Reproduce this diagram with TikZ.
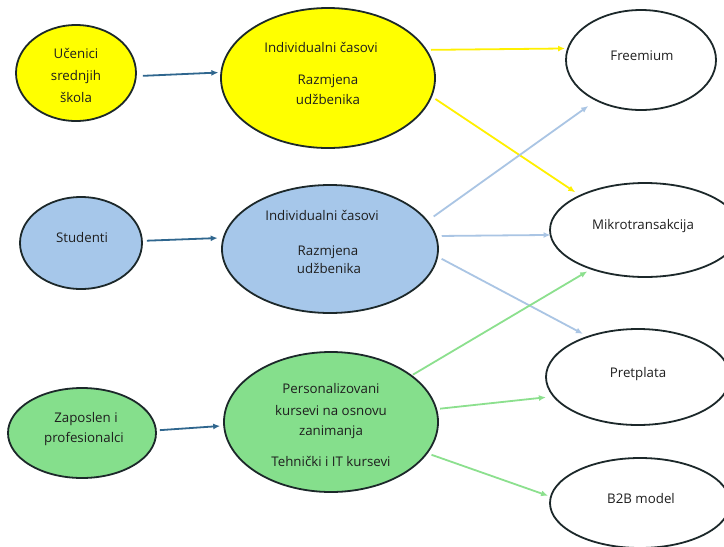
\documentclass[tikz,border=0pt]{standalone}
\usepackage{fontspec}
\setmainfont{Open Sans}
\usetikzlibrary{shapes.geometric,arrows.meta}

\definecolor{yelfill}{RGB}{255,255,0}
\definecolor{bluefill}{RGB}{166,199,234}
\definecolor{greenfill}{RGB}{133,223,140}
\definecolor{rim}{RGB}{28,40,42}
\definecolor{txtc}{RGB}{30,30,30}
\definecolor{feedarrow}{RGB}{47,102,142}
\definecolor{yelarrow}{RGB}{255,240,0}
\definecolor{bluearrow}{RGB}{170,197,228}
\definecolor{greenarrow}{RGB}{140,224,142}

\tikzset{
  oval/.style={ellipse, draw=rim, line width=1.8pt, inner sep=0pt, outer sep=0pt,
               minimum width=#1},
  lbl/.style={font=\fontsize{13.3}{16}\selectfont, text=txtc, anchor=base, inner sep=0pt},
  link/.style={line width=1.8pt, -{Latex[length=7pt,width=6pt]}},
}

\begin{document}
\begin{tikzpicture}[x=1pt,y=-1pt]
\useasboundingbox (0,0) rectangle (724,547);
\clip (0,0) rectangle (724,547);
\fill[white] (0,0) rectangle (724,547);

% user groups
\node[oval=120pt, minimum height=96pt, fill=yelfill]   (pupils)  at (76,73)  {};
\node[oval=122pt, minimum height=92pt, fill=bluefill]  (students) at (81,243) {};
\node[oval=148pt, minimum height=90pt, fill=greenfill] (workers) at (82,433) {};

% offers
\node[oval=214pt, minimum height=140pt, fill=yelfill]   (offerY) at (328,78)  {};
\node[oval=216pt, minimum height=128pt, fill=bluefill]  (offerB) at (330,249) {};
\node[oval=214pt, minimum height=140pt, fill=greenfill] (offerG) at (331,422) {};

% revenue models
\node[oval=150pt, minimum height=100pt, fill=white] (free)  at (641,60)  {};
\node[oval=190pt, minimum height=94pt,  fill=white] (micro) at (645,230) {};
\node[oval=184pt, minimum height=96pt,  fill=white] (subs)  at (638,377) {};
\node[oval=180pt, minimum height=90pt,  fill=white] (btb)   at (640,503) {};

% labels
\node[lbl] (t1a) at (76,58)  {Učenici};
\node[lbl] (t1b) at (76,80)  {srednjih};
\node[lbl] (t1c) at (76,102) {škola};
\node[lbl] (t2a) at (82,242) {Studenti};
\node[lbl] (t3a) at (86,422) {Zaposlen i};
\node[lbl] (t3b) at (84,442) {profesionalci};

\node[lbl] (tya) at (321,52)  {Individualni časovi};
\node[lbl] (tyb) at (328,84)  {Razmjena};
\node[lbl] (tyc) at (328,104) {udžbenika};
\node[lbl] (tba) at (322,220) {Individualni časovi};
\node[lbl] (tbb) at (328,255) {Razmjena};
\node[lbl] (tbc) at (329,273) {udžbenika};
\node[lbl] (tga) at (331,393) {Personalizovani};
\node[lbl] (tgb) at (331,415) {kursevi na osnovu};
\node[lbl] (tgc) at (331,435) {zanimanja};
\node[lbl] (tgd) at (331,466) {Tehnički i IT kursevi};

\node[lbl] (tf) at (642,60)  {Freemium};
\node[lbl] (tm) at (643,229) {Mikrotransakcija};
\node[lbl] (tp) at (638,377) {Pretplata};
\node[lbl] (tt) at (641,503) {B2B model};

% groups to offers
\draw[link, feedarrow, shorten <=7pt, shorten >=3pt] (pupils.-3.4)  -- (offerY.177.9);
\draw[link, feedarrow, shorten <=5pt, shorten >=6pt] (students.2.6) -- (offerB.174.4);
\draw[link, feedarrow, shorten <=4pt, shorten >=4pt] (workers.2.2)  -- (offerG.182.1);

% offers to revenue models
\draw[link, yelarrow, shorten <=5pt, shorten >=3pt] (offerY.16.4) -- (free.171);
\draw[link, yelarrow, shorten <=5pt, shorten >=6pt] (offerY.-10)  -- (micro.152.1);

\draw[link, bluearrow, shorten <=8pt, shorten >=10pt] (offerB.16.8) -- (free.222.1);
\draw[link, bluearrow, shorten <=6pt, shorten >=0pt]  (offerB.7.1)  -- (micro.183.2);
\draw[link, bluearrow, shorten <=5pt, shorten >=6pt]  (offerB.-4.1) -- (subs.141.3);

\draw[link, greenarrow, shorten <=2pt, shorten >=5pt] (offerG.30.7)  -- (micro.216.4);
\draw[link, greenarrow, shorten <=4pt, shorten >=8pt] (offerG.7.3)   -- (subs.193.6);
\draw[link, greenarrow, shorten <=5pt, shorten >=3pt] (offerG.-18.1) -- (btb.176.3);
\end{tikzpicture}
\end{document}
